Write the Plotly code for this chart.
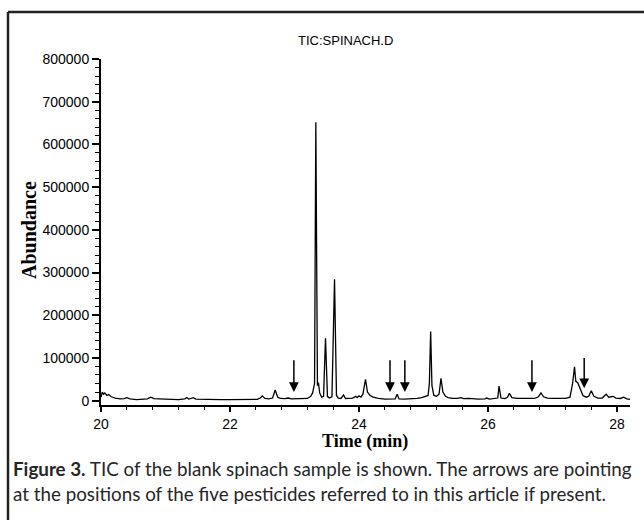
import plotly.graph_objects as go

# ---- data ----
times = [20.00, 20.02, 20.04, 20.06, 20.09, 20.12, 20.16, 20.22, 20.30, 20.36,
         20.40, 20.45, 20.55, 20.65, 20.72, 20.77, 20.82, 20.90, 21.00, 21.10,
         21.20, 21.30, 21.33, 21.36, 21.40, 21.43, 21.47, 21.55, 21.70, 21.85,
         22.00, 22.15, 22.30, 22.42, 22.47, 22.50, 22.54, 22.60, 22.66, 22.70,
         22.74, 22.78, 22.85, 22.90, 22.95, 23.05, 23.12, 23.20, 23.25, 23.28,
         23.31, 23.33, 23.355, 23.37, 23.39, 23.42, 23.45, 23.48, 23.51, 23.54,
         23.58, 23.62, 23.65, 23.68, 23.72, 23.76, 23.79, 23.85, 23.90, 23.95,
         23.97, 24.00, 24.03, 24.06, 24.10, 24.13, 24.17, 24.22, 24.30, 24.40,
         24.50, 24.56, 24.59, 24.62, 24.70, 24.80, 24.90, 24.97, 25.02, 25.07,
         25.09, 25.11, 25.13, 25.16, 25.20, 25.24, 25.27, 25.30, 25.34, 25.38,
         25.45, 25.52, 25.58, 25.62, 25.70, 25.75, 25.85, 25.95, 25.98, 26.02,
         26.10, 26.15, 26.17, 26.20, 26.26, 26.30, 26.33, 26.37, 26.45, 26.55,
         26.65, 26.72, 26.78, 26.82, 26.86, 26.92, 27.00, 27.10, 27.20, 27.27,
         27.31, 27.34, 27.36, 27.39, 27.43, 27.47, 27.52, 27.56, 27.60, 27.64,
         27.70, 27.77, 27.83, 27.87, 27.94, 27.98, 28.05, 28.10, 28.15, 28.20]

abundance = [8000, 20000, 15000, 18000, 12000, 14000, 9000, 6000, 4000, 4500,
             7000, 4000, 2500, 2500, 4000, 8000, 4500, 4000, 3500, 3000,
             2500, 4000, 7000, 3500, 5000, 7000, 3500, 3000, 2500, 2500,
             2500, 2500, 2500, 3000, 6000, 11000, 5000, 4000, 6000, 25000,
             8000, 5000, 4500, 6000, 4000, 4000, 3500, 5000, 10000, 18000,
             40000, 652000, 35000, 42000, 18000, 8000, 10000, 146000, 10000, 6000,
             9000, 284000, 12000, 6000, 5000, 13000, 5000, 5000, 6000, 10000,
             7000, 11000, 8000, 15000, 50000, 20000, 12000, 8000, 5000, 3500,
             3500, 4000, 15000, 4000, 3500, 3500, 5000, 7000, 9000, 12000,
             40000, 162000, 35000, 12000, 10000, 15000, 52000, 20000, 10000, 7000,
             5000, 5000, 7000, 4500, 5000, 4000, 3500, 4000, 6000, 3500,
             4000, 6000, 34000, 6000, 4500, 8000, 17000, 7000, 5000, 4500,
             4500, 5000, 9000, 18000, 9000, 6000, 5000, 4500, 5000, 8000,
             40000, 79000, 45000, 42000, 25000, 12000, 8000, 10000, 23000, 10000,
             6000, 6000, 15000, 8000, 10000, 6000, 5000, 8000, 4000, 3000]

# pesticide positions marked with arrows (time, tail abundance, tip abundance)
arrow_times = [22.99, 24.48, 24.71, 26.68, 27.49]
arrow_tail = [98000, 98000, 98000, 98000, 103000]
arrow_tip = [20000, 20000, 20000, 20000, 29000]

y_ticks = [0, 100000, 200000, 300000, 400000, 500000, 600000, 700000, 800000]
x_ticks = [20, 22, 24, 26, 28]

title_text = "TIC:SPINACH.D"
x_title = "Time (min)"
y_title = "Abundance"
caption_1 = "<b>Figure 3.</b> TIC of the blank spinach sample is shown. The arrows are pointing"
caption_2 = "at the positions of the five pesticides referred to in this article if present."

# ---- layout geometry (pixels) ----
W, H = 644, 520
L, R, T, B = 101, 14, 59, 115
PW, PH = W - L - R, H - T - B


def px(x):
    return (x - L) / PW


def py(y):
    return (H - B - y) / PH


fig = go.Figure()
fig.add_trace(go.Scatter(x=times, y=abundance, mode="lines",
                         line=dict(color="black", width=1.3),
                         hoverinfo="skip", showlegend=False))

annotations = []
for t, a0, a1 in zip(arrow_times, arrow_tail, arrow_tip):
    annotations.append(dict(x=t, y=a1, ax=t, ay=a0, xref="x", yref="y",
                            axref="x", ayref="y", text="", showarrow=True,
                            arrowhead=2, arrowsize=1.3, arrowwidth=1.5,
                            arrowcolor="black", standoff=0))

annotations += [
    dict(text=title_text, x=px(345), y=py(40), xref="paper", yref="paper",
         showarrow=False, xanchor="center", yanchor="middle",
         font=dict(family="Liberation Sans, Arial", size=13, color="black")),
    dict(text="<b>" + y_title + "</b>", x=px(29), y=py(230), xref="paper",
         yref="paper", showarrow=False, textangle=-90, xanchor="center",
         yanchor="middle",
         font=dict(family="Liberation Serif, Times New Roman", size=20,
                   color="black")),
    dict(text="<b>" + x_title + "</b>", x=px(365), y=py(441), xref="paper",
         yref="paper", showarrow=False, xanchor="center", yanchor="middle",
         font=dict(family="Liberation Serif, Times New Roman", size=18,
                   color="black")),
    dict(text=caption_1, x=px(11), y=py(469), xref="paper", yref="paper",
         showarrow=False, xanchor="left", yanchor="middle",
         font=dict(family="Lato", size=18.8, color="#262626")),
    dict(text=caption_2, x=px(11), y=py(493), xref="paper", yref="paper",
         showarrow=False, xanchor="left", yanchor="middle",
         font=dict(family="Lato", size=18.8, color="#262626")),
]

shapes = [
    dict(type="line", xref="paper", yref="paper", x0=px(8), x1=px(8),
         y0=py(12), y1=py(530), line=dict(color="#222", width=2.5)),
    dict(type="line", xref="paper", yref="paper", x0=px(8), x1=px(660),
         y0=py(12), y1=py(12), line=dict(color="#222", width=2.5)),
]

fig.update_layout(
    width=W, height=H, margin=dict(l=L, r=R, t=T, b=B),
    paper_bgcolor="white", plot_bgcolor="white",
    annotations=annotations, shapes=shapes, showlegend=False,
    xaxis=dict(range=[20, 28.2], tickvals=x_ticks, ticktext=[str(v) for v in x_ticks],
               showgrid=False, zeroline=False, showline=True, linecolor="black",
               linewidth=2, ticks="outside", ticklen=5, tickwidth=1.5,
               tickcolor="black",
               tickfont=dict(family="Liberation Sans, Arial", size=14, color="black"),
               minor=dict(dtick=0.4, tick0=20, ticks="outside", ticklen=3,
                          tickwidth=1.2, tickcolor="black")),
    yaxis=dict(range=[-10300, 800000], tickvals=y_ticks,
               ticktext=[str(v) for v in y_ticks],
               showgrid=False, zeroline=False, showline=True, linecolor="black",
               linewidth=2, ticks="outside", ticklen=7, tickwidth=1.5,
               tickcolor="black",
               tickfont=dict(family="Liberation Sans, Arial", size=14, color="black"),
               minor=dict(dtick=20000, tick0=0, ticks="outside", ticklen=4,
                          tickwidth=1.2, tickcolor="black")),
)

fig.write_html("out.html")
